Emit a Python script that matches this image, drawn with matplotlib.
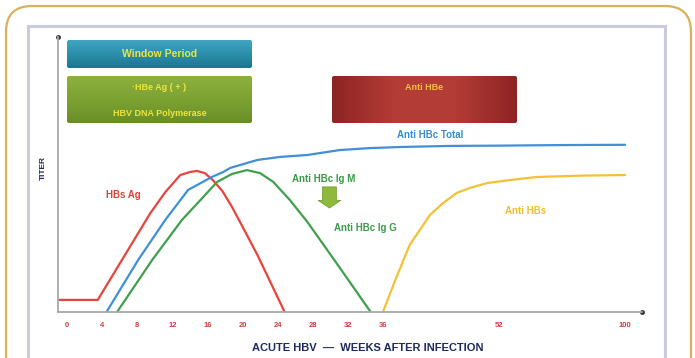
import numpy as np
import matplotlib
matplotlib.use("Agg")
import matplotlib.pyplot as plt
from matplotlib.patches import FancyBboxPatch, Rectangle, FancyArrow
from matplotlib.colors import LinearSegmentedColormap

plt.rcParams['font.family'] = ['Liberation Sans', 'DejaVu Sans']

# ----------------------------
# data (weeks after infection, relative titer 0-100)
# ----------------------------
tick_weeks = [0, 4, 8, 12, 16, 20, 24, 28, 32, 36, 52, 100]
tick_labels = [str(w) for w in tick_weeks]

hbsag_wk = [-1.0, 3.5, 9.5, 11.2, 12.9, 14.0, 14.8, 15.7, 16.6, 17.7, 18.8, 20.2, 21.7, 24.8]
hbsag_t = [4.4, 4.4, 36.0, 43.6, 49.8, 50.9, 51.3, 50.5, 48.0, 44.0, 38.2, 29.8, 20.7, 0.0]

hbc_total_wk = [4.5, 8.1, 11.2, 13.8, 16.5, 17.8, 18.6, 21.7, 24.3, 27.4, 31.1, 34.5,
                38.4, 45.3, 52.5, 75.3, 100.0]
hbc_total_t = [0.0, 18.9, 33.5, 44.4, 49.1, 50.9, 52.4, 55.3, 56.4, 57.1, 58.9, 59.6,
               60.0, 60.4, 60.5, 60.7, 60.8]

igm_wk = [5.7, 9.7, 13.1, 15.2, 17.1, 18.8, 20.5, 22.0, 23.5, 25.4, 27.4, 31.1, 34.6]
igm_t = [0.0, 18.9, 33.5, 40.7, 47.3, 50.2, 51.6, 50.5, 47.3, 40.7, 32.7, 16.0, 0.0]

hbs_wk = [36.0, 37.7, 39.7, 42.5, 44.3, 46.2, 48.0, 50.4, 56.3, 66.5, 84.0, 100.0]
hbs_t = [0.0, 11.6, 24.4, 35.3, 39.6, 43.3, 45.1, 46.9, 48.0, 49.1, 49.6, 49.8]

# axis is not linear: 0..36 evenly, then squeezed up to 100
tick_pos = [0, 1, 2, 3, 4, 5, 6, 7, 8, 9, 12.3, 15.9]


def fwd(w):
    w = np.asarray(w, float)
    out = np.interp(w, tick_weeks, tick_pos)
    out = np.where(w < 0, w * 0.25, out)
    out = np.where(w > 100, 15.9 + (w - 100) * 3.6 / 48, out)
    return out


def inv(p):
    p = np.asarray(p, float)
    out = np.interp(p, tick_pos, tick_weeks)
    out = np.where(p < 0, p * 4, out)
    out = np.where(p > 15.9, 100 + (p - 15.9) * 48 / 3.6, out)
    return out


W, H = 695, 358
fig = plt.figure(figsize=(W / 100, H / 100), dpi=100)

# background layer in pixel coords
bg = fig.add_axes([0, 0, 1, 1], zorder=0)
bg.axis('off')

bg.add_patch(FancyBboxPatch((6, 6), 685, 420, boxstyle="round,pad=0,rounding_size=26",
                            fc='white', ec='#D8B15A', lw=1.6, zorder=1))
bg.add_patch(Rectangle((28, 26), 637, 340, fc='white', ec='#C9CCE0', lw=2.2, zorder=1))


def grad_box(x0, y0, w, h, colors, horizontal=False):
    patch = FancyBboxPatch((x0, y0), w, h, boxstyle="round,pad=0,rounding_size=2",
                           fc='none', ec='none', zorder=2)
    bg.add_patch(patch)
    cmap = LinearSegmentedColormap.from_list('g', colors)
    g = np.linspace(0, 1, 64)
    img = g[None, :] if horizontal else g[:, None]
    im = bg.imshow(img, cmap=cmap, extent=(x0, x0 + w, y0 + h, y0), aspect='auto',
                   interpolation='bilinear', origin='upper', zorder=3)
    im.set_clip_path(patch)


grad_box(67, 40, 185, 28, ['#3FA6C2', '#2B8FAA', '#1F7490'])
grad_box(67, 76, 185, 47, ['#8DB03E', '#7CA232', '#6A8E27'])
grad_box(332, 76, 185, 47, ['#8E2424', '#B43C36', '#B43C36', '#8E2424'], horizontal=True)
bg.set_xlim(0, W)
bg.set_ylim(H, 0)

box_txt = dict(color='#EEE63A', fontsize=6.5, fontweight='bold', ha='center', va='center', zorder=4)
bg.text(159.5, 54, 'Window Period', **dict(box_txt, fontsize=7.5))
bg.text(159.5, 88, '·HBe Ag ( + )', **box_txt)
bg.text(159.5, 113, 'HBV DNA Polymerase', **box_txt)
bg.text(424.5, 88, 'Anti HBe', **dict(box_txt, color='#F3C040'))

# ----------------------------
# main chart
# ----------------------------
ax = fig.add_axes([58 / W, 1 - 312 / H, (642 - 58) / W, (312 - 37) / H], zorder=2)
ax.patch.set_alpha(0)
ax.set_xscale('function', functions=(fwd, inv))
ax.set_xlim(-1.03, 106.4)
ax.set_ylim(0, 100)

kw = dict(lw=1.6, solid_joinstyle='round', solid_capstyle='round')
ax.plot(hbsag_wk, hbsag_t, color='#E8443C', **kw)
ax.plot(hbc_total_wk, hbc_total_t, color='#3F90D8', **kw)
ax.plot(igm_wk, igm_t, color='#3FA04C', **kw)
ax.plot(hbs_wk, hbs_t, color='#F2C232', **kw)

for s in ['top', 'right']:
    ax.spines[s].set_visible(False)
for s in ['left', 'bottom']:
    ax.spines[s].set_color('#A8A8A8')
    ax.spines[s].set_linewidth(1.3)
ax.plot([0], [1], 'o', color='#333333', ms=2.5, transform=ax.transAxes, clip_on=False)
ax.plot([1], [0], 'o', color='#333333', ms=2.5, transform=ax.transAxes, clip_on=False)

ax.set_xticks(tick_weeks)
ax.set_xticklabels(tick_labels)
ax.xaxis.set_minor_locator(matplotlib.ticker.NullLocator())
ax.tick_params(axis='x', length=0, pad=7, labelsize=5.5, labelcolor='#C84040')
for lb in ax.get_xticklabels():
    lb.set_fontweight('bold')
ax.set_yticks([])

# labels on the curves
lab = dict(fontsize=7, fontweight='bold', ha='center', va='center')
ax.text(6.4, 42.5, 'HBs Ag', color='#E0403A', **lab)
ax.text(29.2, 48.4, 'Anti HBc Ig M', color='#3A9A48', **lab)
ax.text(34.0, 30.5, 'Anti HBc Ig G', color='#3A9A48', **lab)
ax.text(62.0, 36.7, 'Anti HBs', color='#EDBE30', **lab)
ax.text(42.5, 64.4, 'Anti HBc Total', color='#3A8AD0', **lab)
ax.add_patch(FancyArrow(29.9, 45.5, 0, -7.7, width=1.6, head_width=2.6, head_length=2.8,
                        length_includes_head=True, fc='#8DBA3C', ec='#6E9A2A', lw=0.5))

fig.text(43 / W, 1 - 168 / H, 'TITER', rotation=90, color='#1E2A5C', fontsize=6,
         fontweight='bold', ha='center', va='center')
fig.text(368 / W, 1 - 348 / H, 'ACUTE HBV  —  WEEKS AFTER INFECTION', color='#1E2A5C',
         fontsize=8, fontweight='bold', ha='center', va='center')

fig.savefig('out.png', dpi=100)
